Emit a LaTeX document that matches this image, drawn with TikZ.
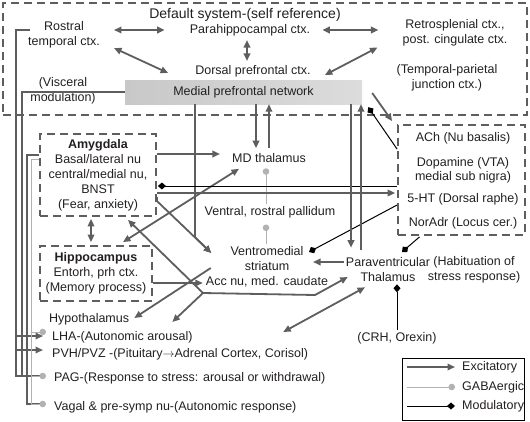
\documentclass[tikz,border=0pt]{standalone}
\usepackage{fontspec}
\setmainfont{Liberation Sans}
\usepackage{tikz}
\usetikzlibrary{arrows.meta}

\definecolor{linegray}{HTML}{5E5E5E}
\definecolor{gabagray}{HTML}{B2B2B2}
\definecolor{mpnleft}{HTML}{C8C8C8}
\definecolor{mpnright}{HTML}{DCDCDC}
\definecolor{inkblack}{HTML}{231F20}

\tikzset{
  exc/.style={draw=linegray, line width=1.8pt, -{Triangle[length=7.5pt,width=6.5pt]}},
  excboth/.style={exc, {Triangle[length=7.5pt,width=6.5pt]}-{Triangle[length=7.5pt,width=6.5pt]}},
  excline/.style={draw=linegray, line width=1.8pt},
  gaba/.style={draw=gabagray, line width=1pt, -{Circle[length=6.5pt]}},
  modu/.style={draw=black, line width=1pt, -{Diamond[length=8pt,width=7pt]}},
  dashbox/.style={draw=linegray, line width=1.8pt, dash pattern=on 8pt off 5pt},
}

\begin{document}
\begin{tikzpicture}[x=1pt, y=-1pt, every node/.style={font=\fontsize{12.5}{15}\selectfont, text=inkblack, inner sep=2pt}]
\useasboundingbox (0,0) rectangle (530,421);

% default system
\node [dashbox, minimum width=524pt, minimum height=112pt] (dmnbox) at (265,59) {};
\node [font=\fontsize{14}{16}\selectfont] (dmn) at (245,15) {Default system-(self reference)};
\node (para) at (250,30) {Parahippocampal ctx.};
\node [align=center] (rost) at (64,35) {Rostral\\temporal ctx.};
\node (dpfc) at (253,71) {Dorsal prefrontal ctx.};
\node [align=center] (retro) at (455,33) {Retrosplenial ctx.,\\post. cingulate ctx.};
\node [align=center] (tpj) at (447,78) {(Temporal-parietal\\junction ctx.)};
\node [align=center] (visc) at (63,91) {(Visceral\\modulation)};
\node [left color=mpnleft, right color=mpnright, minimum width=237pt, minimum height=24pt, inner sep=0pt] (mpn) at (243.5,92) {Medial prefrontal network};

% subcortical
\node [dashbox, align=center, minimum width=116pt, minimum height=82pt] (amy) at (98,175) {\textbf{Amygdala}\\Basal/lateral nu\\central/medial nu,\\BNST\\(Fear, anxiety)};
\node [dashbox, align=center, minimum width=112pt, minimum height=55pt] (hip) at (96,273.5) {\textbf{Hippocampus}\\Entorh, prh ctx.\\(Memory process)};
\node (md) at (269,158) {MD thalamus};
\node (pal) at (270,212) {Ventral, rostral pallidum};
\node [align=center] (vms) at (267,267) {Ventromedial\\striatum\\Acc nu, med. caudate};
\node [align=center] (pvt) at (388,270) {Paraventricular\\Thalamus};
\node [align=center] (habit) at (474,270) {(Habituation of\\stress response)};
\node (crh) at (397,338) {(CRH, Orexin)};

% neuromodulators
\node [dashbox, minimum width=127pt, minimum height=110pt] (nmod) at (461.5,180) {};
\node (ach) at (463,138) {ACh (Nu basalis)};
\node [align=center] (da) at (463,170) {Dopamine (VTA)\\[-1pt]medial sub nigra)};
\node (sht) at (463,199) {5-HT (Dorsal raphe)};
\node (nadr) at (463,223) {NorAdr (Locus cer.)};

% hypothalamus and brainstem
\node [right] (hyp) at (47,319) {Hypothalamus};
\node [right] (lha) at (50,337) {LHA-(Autonomic arousal)};
\node [right] (pvh) at (50,354) {PVH/PVZ -(Pituitary$\rightarrow$Adrenal Cortex, Corisol)};
\node [right] (pag) at (52,378) {PAG-(Response to stress: arousal or withdrawal)};
\node [right] (vagal) at (52,407) {Vagal \& pre-symp nu-(Autonomic response)};

% legend
\node [draw=black, line width=0.8pt, minimum width=122pt, minimum height=62pt] (legend) at (463,389) {};
\node [right] (lgexc) at (460,367) {Excitatory};
\node [right] (lggaba) at (460,387) {GABAergic};
\node [right] (lgmod) at (460,406) {Modulatory};
\draw [exc] ([xshift=-53pt]lgexc.west) -- ([xshift=-5pt]lgexc.west);
\draw [gaba] ([xshift=-53pt]lggaba.west) -- ([xshift=-5pt]lggaba.west);
\draw [modu] ([xshift=-53pt]lgmod.west) -- ([xshift=-5pt]lgmod.west);

% cortex links
\draw [excboth] ([xshift=12pt]rost.east |- para.west) -- ([xshift=-23pt]para.west);
\draw [excboth] ([xshift=10pt]para.east) -- ([xshift=-22pt]retro.west |- para.east);
\draw [excboth] ([shift={(-3,2)}]para.south) -- ([shift={(-6,-2)}]dpfc.north);
\draw [excboth] ([shift={(12,4)}]dpfc.east) -- ([shift={(-23,-1)}]retro.south west);
\draw [excboth] ([shift={(12,13)}]rost.east) -- ([shift={(-25,2)}]dpfc.west);

% left buses
\draw [excline] ([shift={(4,-5)}]rost.west) -| ([shift={(-36,-2)}]pag.west) -- ([shift={(-12,-2)}]pag.west);
\draw [exc] ([shift={(-34,-1)}]lha.west) -- ([shift={(-7,-1)}]lha.west);
\draw [exc] ([shift={(-34,-4)}]pvh.west) -- ([shift={(-7,-4)}]pvh.west);
\draw [excline] (mpn.west) -| ([shift={(-30,-2)}]pag.west);
\draw [excline] ([shift={(0,-20)}]amy.west) -| ([shift={(-25,-3)}]vagal.west) -- ([shift={(-12,-3)}]vagal.west);
\draw [gaba] ([shift={(0,-16)}]amy.west) -| ([shift={(-21,-3)}]vagal.west) -- ([shift={(-6,-3)}]vagal.west);
\draw [gaba] ([shift={(-19,-5)}]lha.west) -- ([shift={(-4,-5)}]lha.west);
\draw [gaba] ([shift={(-21,-2)}]pag.west) -- ([shift={(-6,-2)}]pag.west);

% thalamus and striatum
\draw [exc] ([xshift=-13pt]md.north |- mpn.south) -- ([shift={(-13,-3)}]md.north);
\draw [exc] ([shift={(0,-3)}]md.north) -- (md.north |- mpn.south);
\draw [exc] ([shift={(0,-21)}]amy.east) -- ([shift={(-10,-4)}]md.west);
\draw [excboth] ([shift={(27,-3)}]hip.north) -- ([shift={(9,4)}]md.south west);
\draw [excboth] ([shift={(-7,2)}]amy.south) -- ([shift={(-5,-3)}]hip.north);
\draw [gaba] ([shift={(-4,0)}]pal.north) -- ([shift={(-3,3.5)}]md.south);
\draw [gaba] ([shift={(-1,0)}]vms.north) -- ([shift={(-4,4.5)}]pal.south);
\draw [exc] ([xshift=-48.5pt]mpn.south) -- ++(0,133) -- ([shift={(7.5,-14)}]vms.west);
\draw [exc] ([shift={(0,22)}]amy.east) -- ++(0,4) -- ([shift={(7.5,-14)}]vms.west);
\draw [exc] ([shift={(0,9.5)}]hip.east) -- ([shift={(-1,16)}]vms.west);
\draw [exc] ([shift={(7,1)}]vms.west) -- ([shift={(3,-1)}]hyp.east);

% neuromodulator links
\draw [exc] ([shift={(0,18)}]amy.east) -- ([shift={(-2,13)}]nmod.west);
\draw [modu] ([shift={(0,6)}]nmod.west) -- ([shift={(1,11)}]amy.east);
\draw [exc] ([shift={(10,1)}]mpn.east) -- ([shift={(-5,-3)}]nmod.north west);
\draw [modu] ([shift={(0,25)}]nmod.north west) -- ([shift={(6,3)}]mpn.south east);
\draw [modu] ([shift={(0,25)}]nmod.west) -- ([shift={(42,-15)}]vms.center);
\draw [modu] ([shift={(-42,1)}]nmod.south) -- ([shift={(14,-18)}]pvt.center);

% paraventricular thalamus
\draw [exc] ([shift={(0,-8)}]pvt.west) -- ([shift={(46,-5)}]vms.center);
\draw [exc] ([xshift=-37pt]pvt.north |- mpn.south) -- ([shift={(-37,-8)}]pvt.north);
\draw [exc] ([shift={(-27,-6)}]pvt.north) -- ([xshift=-27pt]pvt.north |- mpn.south);
\draw [modu] (crh.north) -- ([shift={(9,0)}]pvt.south);
\draw [excboth] ([shift={(-23,3)}]pvt.south) -- ([shift={(-27,-22)}]pvh.east);
\coordinate (fork) at (203,293);
\draw [exc] (fork) -- ([shift={(30,3)}]amy.south);
\draw [exc] (fork) -- ++(112,2) -- ([shift={(4,7)}]pvt.west);
\draw [exc] (fork) -- ([shift={(41,3)}]hyp.east);
\end{tikzpicture}
\end{document}
